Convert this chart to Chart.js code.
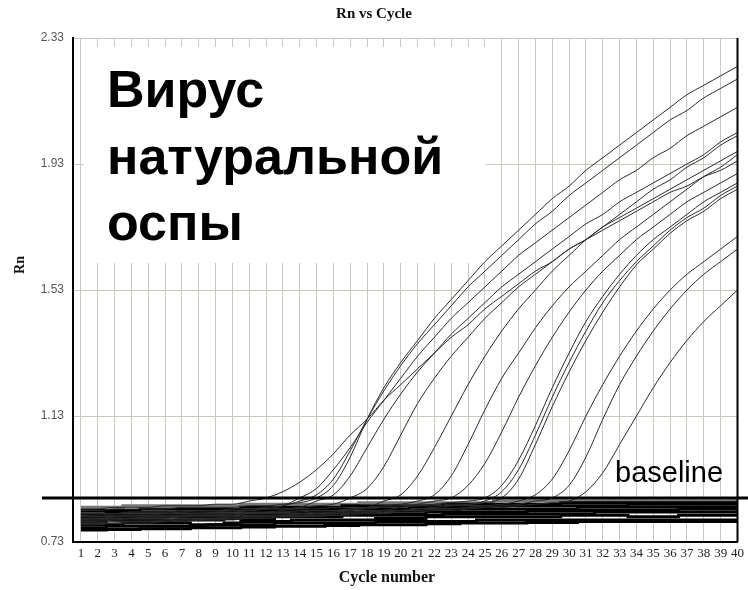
<!DOCTYPE html>
<html>
<head>
<meta charset="utf-8">
<script src="https://cdn.jsdelivr.net/npm/chart.js@4.4.1/dist/chart.umd.min.js"></script>
<style>
html, body { margin: 0; padding: 0; background: #fff; }
canvas { display: block; }
</style>
</head>
<body>
<canvas id="rnChart" width="748" height="590"></canvas>
<script>
// cycles and tick labels
const cycles = [1,2,3,4,5,6,7,8,9,10,11,12,13,14,15,16,17,18,19,20,21,22,23,24,25,26,27,28,29,30,31,32,33,34,35,36,37,38,39,40];
const rnTicks = [0.73, 1.13, 1.53, 1.93, 2.33];
const threshold = 0.87;

// amplified wells (Rn per cycle 1..40)
const wellA = [0.83,0.83,0.835,0.835,0.835,0.835,0.84,0.84,0.84,0.84,0.845,0.845,0.85,0.855,0.87,0.91,1.00,1.12,1.22,1.30,1.37,1.44,1.50,1.56,1.62,1.67,1.72,1.77,1.82,1.86,1.91,1.95,1.99,2.03,2.07,2.11,2.15,2.18,2.21,2.24];
const wellB = [0.82,0.82,0.82,0.825,0.825,0.825,0.83,0.83,0.83,0.835,0.835,0.84,0.845,0.86,0.88,0.93,1.02,1.12,1.21,1.29,1.36,1.42,1.48,1.54,1.59,1.64,1.69,1.74,1.78,1.83,1.87,1.91,1.95,1.99,2.03,2.07,2.10,2.14,2.17,2.20];
const wellC = [0.835,0.835,0.84,0.84,0.84,0.845,0.845,0.845,0.85,0.85,0.86,0.87,0.89,0.92,0.96,1.01,1.07,1.12,1.18,1.23,1.28,1.33,1.38,1.42,1.47,1.51,1.55,1.59,1.62,1.66,1.69,1.72,1.75,1.78,1.81,1.84,1.86,1.89,1.91,1.94];
const wellD = [0.81,0.81,0.815,0.815,0.815,0.82,0.82,0.82,0.825,0.825,0.83,0.835,0.845,0.87,0.90,0.96,1.03,1.11,1.18,1.25,1.32,1.38,1.44,1.49,1.54,1.59,1.64,1.68,1.72,1.76,1.80,1.84,1.88,1.91,1.95,1.98,2.02,2.05,2.08,2.11];
const wellE = [0.80,0.80,0.805,0.805,0.81,0.81,0.81,0.815,0.815,0.82,0.82,0.825,0.83,0.84,0.86,0.88,0.94,1.03,1.12,1.20,1.27,1.33,1.39,1.44,1.49,1.54,1.58,1.62,1.66,1.70,1.74,1.77,1.81,1.84,1.87,1.90,1.93,1.96,2.00,2.03];
const wellF = [0.815,0.815,0.82,0.82,0.82,0.82,0.825,0.825,0.825,0.83,0.83,0.835,0.835,0.84,0.845,0.85,0.87,0.90,0.97,1.07,1.17,1.25,1.32,1.38,1.44,1.49,1.54,1.58,1.62,1.66,1.69,1.73,1.76,1.79,1.82,1.85,1.88,1.91,1.94,1.97];
const wellG = [0.79,0.79,0.795,0.795,0.795,0.8,0.8,0.8,0.805,0.805,0.81,0.81,0.815,0.815,0.82,0.825,0.83,0.84,0.86,0.88,0.94,1.03,1.13,1.23,1.32,1.40,1.47,1.53,1.59,1.64,1.69,1.73,1.77,1.81,1.85,1.88,1.92,1.95,1.99,2.02];
const wellH = [0.80,0.805,0.805,0.805,0.81,0.81,0.81,0.815,0.815,0.815,0.82,0.82,0.825,0.825,0.83,0.83,0.835,0.84,0.845,0.85,0.86,0.88,0.94,1.04,1.15,1.25,1.33,1.41,1.48,1.54,1.59,1.64,1.69,1.73,1.77,1.81,1.85,1.89,1.92,1.96];
const wellI = [0.785,0.785,0.79,0.79,0.79,0.795,0.795,0.8,0.8,0.8,0.805,0.805,0.81,0.81,0.815,0.815,0.82,0.825,0.83,0.84,0.85,0.86,0.87,0.91,0.98,1.08,1.19,1.29,1.38,1.46,1.53,1.59,1.64,1.69,1.73,1.77,1.81,1.84,1.87,1.90];
const wellJ = [0.81,0.81,0.81,0.815,0.815,0.815,0.815,0.82,0.82,0.82,0.825,0.825,0.825,0.83,0.83,0.83,0.835,0.835,0.84,0.84,0.845,0.85,0.855,0.86,0.87,0.91,0.99,1.10,1.22,1.33,1.43,1.51,1.58,1.64,1.69,1.73,1.77,1.81,1.84,1.87];
const wellK = [0.795,0.795,0.8,0.8,0.8,0.8,0.805,0.805,0.805,0.81,0.81,0.81,0.815,0.815,0.815,0.82,0.82,0.825,0.825,0.83,0.835,0.84,0.845,0.85,0.86,0.89,0.96,1.07,1.19,1.30,1.40,1.49,1.56,1.62,1.67,1.72,1.76,1.79,1.83,1.86];
const wellL = [0.82,0.82,0.82,0.825,0.825,0.825,0.825,0.83,0.83,0.83,0.83,0.835,0.835,0.835,0.835,0.84,0.84,0.84,0.84,0.845,0.845,0.845,0.85,0.85,0.855,0.87,0.93,1.04,1.16,1.27,1.37,1.46,1.54,1.61,1.66,1.71,1.75,1.78,1.82,1.85];
const wellM = [0.80,0.80,0.80,0.805,0.805,0.805,0.81,0.81,0.81,0.81,0.815,0.815,0.815,0.82,0.82,0.82,0.825,0.825,0.825,0.83,0.83,0.835,0.835,0.84,0.845,0.85,0.86,0.88,0.93,1.02,1.13,1.23,1.32,1.40,1.47,1.53,1.58,1.62,1.66,1.70];
const wellN = [0.79,0.79,0.79,0.795,0.795,0.795,0.8,0.8,0.8,0.805,0.805,0.805,0.81,0.81,0.81,0.815,0.815,0.82,0.82,0.825,0.825,0.83,0.83,0.835,0.84,0.845,0.85,0.86,0.87,0.91,1.00,1.12,1.23,1.32,1.40,1.47,1.53,1.58,1.62,1.66];
const wellO = [0.805,0.805,0.81,0.81,0.81,0.81,0.815,0.815,0.815,0.815,0.82,0.82,0.82,0.82,0.825,0.825,0.825,0.83,0.83,0.83,0.835,0.835,0.835,0.84,0.84,0.84,0.845,0.85,0.855,0.86,0.89,0.95,1.04,1.13,1.22,1.30,1.37,1.43,1.48,1.53];

// flat wells that make the black band under the baseline
const flat1 = [0.775,0.775,0.78,0.78,0.78,0.78,0.78,0.78,0.785,0.785,0.785,0.785,0.79,0.79,0.79,0.79,0.79,0.79,0.795,0.795,0.795,0.795,0.795,0.795,0.8,0.8,0.8,0.8,0.8,0.8,0.8,0.8,0.8,0.8,0.8,0.8,0.8,0.8,0.8,0.8];
const flat2 = [0.785,0.785,0.785,0.79,0.79,0.79,0.79,0.785,0.785,0.79,0.795,0.795,0.795,0.8,0.8,0.8,0.8,0.8,0.805,0.805,0.805,0.81,0.81,0.81,0.81,0.81,0.81,0.81,0.81,0.815,0.815,0.815,0.815,0.81,0.81,0.81,0.815,0.815,0.815,0.815];
const flat3 = [0.795,0.795,0.8,0.8,0.8,0.8,0.8,0.8,0.8,0.805,0.805,0.805,0.81,0.81,0.81,0.81,0.815,0.815,0.815,0.815,0.815,0.815,0.82,0.82,0.82,0.82,0.82,0.82,0.82,0.82,0.82,0.825,0.825,0.825,0.825,0.825,0.825,0.825,0.825,0.825];
const flat4 = [0.805,0.805,0.805,0.81,0.81,0.81,0.81,0.81,0.81,0.81,0.815,0.815,0.815,0.815,0.815,0.82,0.82,0.82,0.82,0.82,0.82,0.825,0.825,0.825,0.825,0.825,0.825,0.83,0.83,0.83,0.83,0.83,0.83,0.83,0.83,0.83,0.835,0.835,0.835,0.835];
const flat5 = [0.81,0.815,0.815,0.815,0.815,0.815,0.815,0.82,0.82,0.82,0.82,0.82,0.82,0.825,0.825,0.825,0.825,0.825,0.83,0.83,0.83,0.83,0.83,0.835,0.835,0.835,0.835,0.835,0.835,0.835,0.84,0.84,0.84,0.84,0.84,0.84,0.84,0.84,0.84,0.84];
const flat6 = [0.82,0.82,0.825,0.825,0.825,0.825,0.825,0.825,0.83,0.83,0.83,0.83,0.83,0.83,0.835,0.835,0.835,0.835,0.835,0.835,0.84,0.84,0.84,0.84,0.84,0.845,0.845,0.845,0.845,0.845,0.845,0.845,0.845,0.85,0.85,0.85,0.85,0.85,0.85,0.85];
const flat7 = [0.83,0.83,0.83,0.83,0.835,0.835,0.835,0.835,0.835,0.835,0.84,0.84,0.84,0.84,0.84,0.84,0.845,0.845,0.845,0.845,0.845,0.845,0.85,0.85,0.85,0.85,0.85,0.85,0.85,0.855,0.855,0.855,0.855,0.855,0.855,0.855,0.855,0.855,0.855,0.855];
const flat8 = [0.84,0.84,0.84,0.845,0.845,0.845,0.845,0.845,0.845,0.845,0.85,0.85,0.85,0.85,0.85,0.85,0.85,0.855,0.855,0.855,0.855,0.855,0.855,0.855,0.855,0.86,0.86,0.86,0.86,0.86,0.86,0.86,0.86,0.86,0.86,0.86,0.86,0.86,0.86,0.86];
const flat9 = [0.768,0.768,0.77,0.77,0.772,0.772,0.772,0.775,0.775,0.775,0.778,0.778,0.78,0.78,0.78,0.782,0.782,0.785,0.785,0.785,0.785,0.788,0.788,0.79,0.79,0.79,0.79,0.792,0.792,0.792,0.795,0.795,0.795,0.795,0.795,0.795,0.795,0.795,0.795,0.795];

const wells = [wellA, wellB, wellC, wellD, wellE, wellF, wellG, wellH, wellI, wellJ, wellK, wellL, wellM, wellN, wellO];
const flats = [flat1, flat2, flat3, flat4, flat5, flat6, flat7, flat8, flat9];

function toPoints(arr) {
    return arr.map((v, i) => ({ x: cycles[i], y: v }));
}

let datasets = [];
wells.forEach((w, i) => {
    datasets.push({
        label: "well " + (i + 1),
        data: toPoints(w),
        borderColor: "#2a2a2a",
        borderWidth: 1,
        pointRadius: 0,
        cubicInterpolationMode: "monotone",
        tension: 0.4
    });
});
flats.forEach((f, i) => {
    datasets.push({
        label: "flat " + (i + 1),
        data: toPoints(f),
        borderColor: i == 7 ? "#777" : "#000",
        borderWidth: 3,
        pointRadius: 0,
        stepped: "middle"
    });
});

// extra drawing: white note box, baseline line, right frame, titles
const decor = {
    id: "decor",
    beforeDatasetsDraw(chart) {
        const c = chart.ctx;
        c.save();
        c.fillStyle = "#fff";
        c.fillRect(84, 47, 402, 216);
        c.fillStyle = "#000";
        c.font = 'bold 52px "Liberation Sans", Arial, sans-serif';
        c.textAlign = "left";
        c.textBaseline = "alphabetic";
        c.fillText("Вирус", 107, 107);
        c.fillText("натуральной", 107, 174);
        c.fillText("оспы", 107, 240);
        c.restore();
    },
    afterDatasetsDraw(chart) {
        const c = chart.ctx;
        const a = chart.chartArea;
        const y = chart.scales.y.getPixelForValue(threshold);
        c.save();
        // right frame
        c.strokeStyle = "#000";
        c.lineWidth = 2;
        c.beginPath();
        c.moveTo(a.right, a.top);
        c.lineTo(a.right, a.bottom);
        c.stroke();
        // baseline
        c.lineWidth = 3;
        c.beginPath();
        c.moveTo(a.left - 31, y);
        c.lineTo(chart.width, y);
        c.stroke();
        c.fillStyle = "#000";
        c.font = '29px "Liberation Sans", Arial, sans-serif';
        c.textAlign = "left";
        c.fillText("baseline", 615, 482);
        // titles
        c.fillStyle = "#111";
        c.textAlign = "center";
        c.textBaseline = "middle";
        c.font = 'bold 15px "Liberation Serif", serif';
        c.fillText("Rn vs Cycle", 374, 14);
        c.font = 'bold 16px "Liberation Serif", serif';
        c.fillText("Cycle number", 387, 578);
        c.translate(20, 265);
        c.rotate(-Math.PI / 2);
        c.font = 'bold 14px "Liberation Serif", serif';
        c.fillText("Rn", 0, 0);
        c.restore();
    }
};

new Chart(document.getElementById("rnChart"), {
    type: "line",
    data: { datasets: datasets },
    options: {
        responsive: false,
        animation: false,
        layout: { padding: { top: 38, right: 7, left: 0, bottom: 0 } },
        plugins: {
            legend: { display: false },
            tooltip: { enabled: false }
        },
        scales: {
            x: {
                type: "linear",
                min: 0.53,
                max: 40,
                afterBuildTicks: (s) => { s.ticks = cycles.map(v => ({ value: v })); },
                afterFit: (s) => { s.height = 48; },
                ticks: {
                    autoSkip: false,
                    maxRotation: 0,
                    padding: 4,
                    color: "#222",
                    font: { family: "Liberation Serif", size: 13 },
                    callback: (v) => v
                },
                grid: { color: "#c8c8c0", drawTicks: false },
                border: { color: "#000", width: 2 }
            },
            y: {
                min: 0.73,
                max: 2.33,
                afterBuildTicks: (s) => { s.ticks = rnTicks.map(v => ({ value: v })); },
                afterFit: (s) => { s.width = 73; },
                ticks: {
                    padding: 9,
                    color: "#555",
                    font: { family: "Liberation Sans", size: 12 },
                    callback: (v) => v.toFixed(2)
                },
                grid: { color: "#c8c8c0", drawTicks: false },
                border: { color: "#000", width: 2 }
            }
        }
    },
    plugins: [decor]
});
</script>
</body>
</html>
